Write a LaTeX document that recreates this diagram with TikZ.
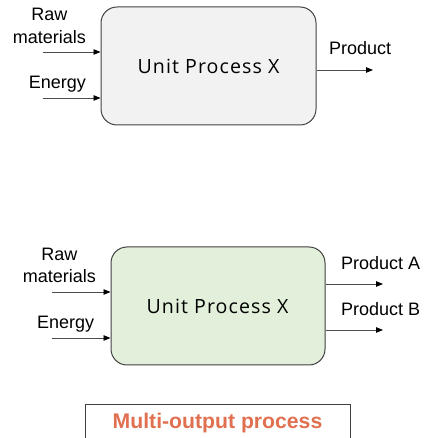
\documentclass[tikz,border=0pt]{standalone}
\usepackage{fontspec}
\setmainfont{Liberation Sans}
\newfontfamily\boxfont[LetterSpace=5.5]{Open Sans}
\usetikzlibrary{arrows.meta}
\definecolor{greybox}{HTML}{F2F2F2}
\definecolor{greenbox}{HTML}{E2EFDA}
\definecolor{edgegrey}{HTML}{404040}
\definecolor{captionred}{HTML}{E07050}
\tikzset{
  procbox/.style={draw=edgegrey, line width=1pt, rounded corners=16pt,
    minimum width=215pt, minimum height=118pt, inner sep=0pt},
  proclabel/.style={font=\boxfont\fontsize{19.6}{24}\selectfont, inner sep=0pt},
  flowlabel/.style={font=\fontsize{18}{22.6}\selectfont, inner sep=0pt, align=center},
  flow/.style={draw=black!70, line width=0.8pt, -{Triangle[length=7pt,width=5.5pt,color=black]}},
  captionbox/.style={draw=edgegrey, line width=0.8pt},
}
\begin{document}
\begin{tikzpicture}[x=1pt,y=1pt]
\useasboundingbox (0,0) rectangle (424,438);

% single-output process
\node[procbox, fill=greybox] (boxA) at (208.5,372) {};
\node[proclabel, anchor=base] (upA) at (208.5,364) {Unit Process X};
\node[flowlabel, anchor=base east] (rawA) at (86,394.7) {Raw\\materials};
\node[flowlabel, anchor=base east] (enA) at (86,349.7) {Energy};
\node[flowlabel, anchor=base west] (prA) at (329,383) {Product};
\coordinate (rawA-s) at (43,386);
\coordinate (enA-s) at (43,340);
\coordinate (prA-e) at (373,368);
\draw[flow] (rawA-s) -- (rawA-s -| boxA.west);
\draw[flow] (enA-s) -- (enA-s -| boxA.west);
\draw[flow] (prA-e -| boxA.east) -- (prA-e);

% multi-output process
\node[procbox, fill=greenbox, minimum width=214pt] (boxB) at (218,132) {};
\node[proclabel, anchor=base] (upB) at (217.5,124) {Unit Process X};
\node[flowlabel, anchor=base east] (rawB) at (96,155.3) {Raw\\materials};
\node[flowlabel, anchor=base east] (enB) at (94.3,109.7) {Energy};
\node[flowlabel, anchor=base west] (prBa) at (341,168) {Product A};
\node[flowlabel, anchor=base west] (prBb) at (341,122) {Product B};
\coordinate (rawB-s) at (52,146);
\coordinate (enB-s) at (52,100);
\coordinate (prBa-e) at (383,154);
\coordinate (prBb-e) at (383,108);
\draw[flow] (rawB-s) -- (rawB-s -| boxB.west);
\draw[flow] (enB-s) -- (enB-s -| boxB.west);
\draw[flow] (prBa-e -| boxB.east) -- (prBa-e);
\draw[flow] (prBb-e -| boxB.east) -- (prBb-e);

% caption, its frame running off the lower edge
\begin{scope}
\clip (0,0) rectangle (424,438);
\draw[captionbox] (85,34) rectangle (350,-12);
\end{scope}
\node[font=\bfseries\fontsize{21.2}{25}\selectfont, text=captionred, inner sep=0pt] (cap) at (217.5,15) {Multi-output process};
\end{tikzpicture}
\end{document}
